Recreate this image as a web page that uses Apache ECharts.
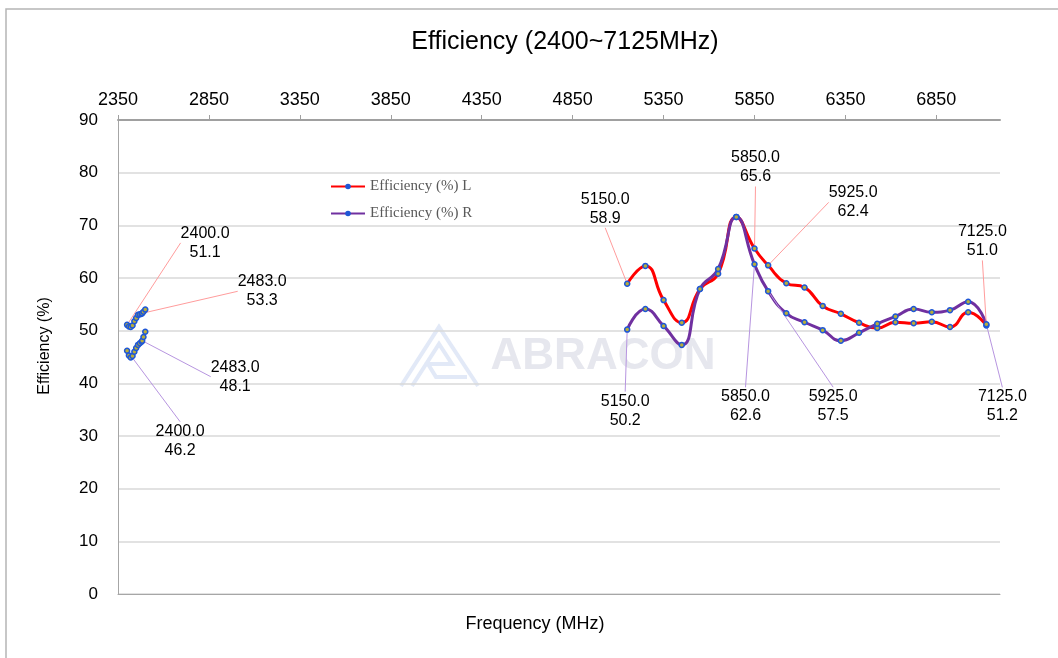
<!DOCTYPE html>
<html>
<head>
<meta charset="utf-8">
<style>
html,body{margin:0;padding:0;background:#fff;}
#chart{width:1058px;height:658px;}
</style>
<script src="https://cdn.jsdelivr.net/npm/echarts@6/dist/echarts.min.js"></script>
</head>
<body>
<div id="chart"></div>
<script>
// ---- Data ----
const title = 'Efficiency (2400~7125MHz)';
const seriesNames = ['Efficiency (%) L', 'Efficiency (%) R'];
const xTicks = [2350, 2850, 3350, 3850, 4350, 4850, 5350, 5850, 6350, 6850];

const freqLow = [2400, 2410, 2420, 2430, 2440, 2450, 2460, 2470, 2480, 2483, 2490, 2500];
const effLowL = [51.1, 50.8, 50.7, 51.0, 51.8, 52.4, 53.0, 53.1, 53.2, 53.3, 53.6, 54.0];
const effLowR = [46.2, 45.3, 44.9, 45.2, 46.0, 46.7, 47.3, 47.6, 47.9, 48.1, 48.8, 49.8];

const freqHigh = [5150, 5250, 5350, 5450, 5550, 5650, 5750, 5850, 5925, 6025, 6125,
                  6225, 6325, 6425, 6525, 6625, 6725, 6825, 6925, 7025, 7125];
const effHighL = [58.9, 62.3, 55.8, 51.5, 57.9, 60.8, 71.6, 65.6, 62.4, 59.0, 58.2,
                  54.7, 53.2, 51.5, 50.5, 51.6, 51.4, 51.7, 50.7, 53.5, 51.0];
const effHighR = [50.2, 54.1, 50.9, 47.3, 57.9, 61.7, 71.6, 62.6, 57.5, 53.3, 51.6,
                  50.1, 48.1, 49.6, 51.3, 52.7, 54.1, 53.5, 53.9, 55.5, 51.2];

const labelledFreqs = [2400, 2483, 5150, 5850, 5925, 7125];

// ---- label offsets (layout only, pixels from the point) ----
const labelOffsetL = {2400: [78, -82], 2483: [120, -22], 5150: [-22, -75], 5850: [1, -81], 5925: [85, -63], 7125: [-4, -84]};
const labelOffsetR = {2400: [53, 90], 2483: [93, 36], 5150: [-2, 81], 5850: [-9, 142], 5925: [65, 115], 7125: [16, 82]};

const colors = ['#ff0000', '#7030a0'];
const leaderColors = ['#ff9c9c', '#b795e0'];
const FONT = 'Liberation Sans, Arial, sans-serif';

function buildData(freqs, vals) {
  return freqs.map((f, i) => {
    const item = { value: [f, vals[i]] };
    if (labelledFreqs.indexOf(f) >= 0) {
      item.label = { show: true };
      item.labelLine = { show: true };
    }
    return item;
  });
}

function makeSeries(name, idx, freqs, vals, offsets) {
  return {
    name: name,
    type: 'line',
    xAxisIndex: 0,
    smooth: 0.5,
    data: buildData(freqs, vals),
    symbol: 'circle',
    symbolSize: 5,
    showSymbol: true,
    z: 3,
    lineStyle: { color: colors[idx], width: 3 },
    itemStyle: { color: '#b8ad3a', borderColor: '#1f57d6', borderWidth: 1.5 },
    emphasis: { disabled: true },
    label: {
      show: false,
      position: 'inside',
      color: '#000',
      fontFamily: FONT,
      fontSize: 16,
      lineHeight: 19,
      align: 'center',
      formatter: p => p.value[0].toFixed(1) + '\n' + p.value[1].toFixed(1)
    },
    labelLine: { show: false, lineStyle: { color: leaderColors[idx], width: 1 } },
    labelLayout: function (params) {
      const f = freqs[params.dataIndex];
      const off = offsets[f];
      if (!off) return {};
      return { dx: off[0], dy: off[1] };
    }
  };
}

const chart = echarts.init(document.getElementById('chart'), null, { renderer: 'canvas' });

const option = {
  backgroundColor: '#ffffff',
  animation: false,
  title: {
    text: title,
    left: 560, top: 25,
    textAlign: 'center',
    textStyle: { fontFamily: FONT, fontSize: 25, fontWeight: 'normal', color: '#000' }
  },
  legend: {
    orient: 'vertical',
    left: 325, top: 174,
    itemWidth: 34, itemHeight: 7, itemGap: 12,
    data: seriesNames,
    itemStyle: { color: '#1f57d6', borderWidth: 0 },
    textStyle: { fontFamily: 'Liberation Serif, Times New Roman, serif', fontSize: 15, color: '#595959' }
  },
  grid: { left: 118, right: 58, top: 120, bottom: 64 },
  xAxis: [{
    type: 'value',
    position: 'top',
    min: 2350, max: 7200, interval: 500,
    axisLine: { show: true, onZero: false, lineStyle: { color: '#a0a0a0', width: 2 } },
    axisTick: { show: true, inside: false, length: 5, lineStyle: { color: '#a0a0a0' } },
    axisLabel: {
      showMaxLabel: false,
      margin: 11,
      fontFamily: FONT, fontSize: 18, color: '#000',
      formatter: v => (xTicks.indexOf(v) >= 0 ? String(v) : '')
    },
    splitLine: { show: false }
  }, {
    type: 'value',
    position: 'bottom',
    min: 2350, max: 7200, interval: 500,
    axisLine: { show: true, onZero: false, lineStyle: { color: '#a6a6a6', width: 1 } },
    axisTick: { show: false },
    axisLabel: { show: false },
    splitLine: { show: false }
  }],
  yAxis: {
    type: 'value',
    min: 0, max: 90, interval: 10,
    axisLine: { show: true, lineStyle: { color: '#a6a6a6', width: 1 } },
    axisTick: { show: false },
    axisLabel: { margin: 20, fontFamily: FONT, fontSize: 17, color: '#000' },
    splitLine: { show: true, lineStyle: { color: '#d9d9d9', width: 1.5 } }
  },
  graphic: [
    { type: 'rect', shape: { x: 6, y: 9, width: 1200, height: 800 }, style: { fill: 'none', stroke: '#b5b5b5', lineWidth: 1.5 }, z: -10, silent: true },
    { type: 'text', x: 535, y: 624, style: { text: 'Frequency (MHz)', fontFamily: FONT, fontSize: 18, fill: '#000', textAlign: 'center', textVerticalAlign: 'middle' }, silent: true },
    { type: 'text', x: 45, y: 346, rotation: Math.PI / 2, style: { text: 'Efficiency (%)', fontFamily: FONT, fontSize: 16, fill: '#000', textAlign: 'center', textVerticalAlign: 'middle' }, silent: true },
    {
      type: 'group', silent: true, z: 1,
      children: [
        { type: 'polyline', shape: { points: [[401, 386], [439, 327], [478, 386]] }, style: { stroke: '#e2e9f7', lineWidth: 4, fill: 'none' } },
        { type: 'polyline', shape: { points: [[412, 386], [439, 344], [452, 364], [428, 364], [436, 377], [467, 377]] }, style: { stroke: '#e2e9f7', lineWidth: 4, fill: 'none' } },
        { type: 'text', x: 603, y: 357, style: { text: 'ABRACON', fontFamily: FONT, fontSize: 44, fontWeight: 'bold', fill: '#e6e7ee', textAlign: 'center', textVerticalAlign: 'middle' } }
      ]
    }
  ],
  series: [
    makeSeries(seriesNames[0], 0, freqLow, effLowL, labelOffsetL),
    makeSeries(seriesNames[0], 0, freqHigh, effHighL, labelOffsetL),
    makeSeries(seriesNames[1], 1, freqLow, effLowR, labelOffsetR),
    makeSeries(seriesNames[1], 1, freqHigh, effHighR, labelOffsetR)
  ]
};
chart.setOption(option);
</script>
</body>
</html>
